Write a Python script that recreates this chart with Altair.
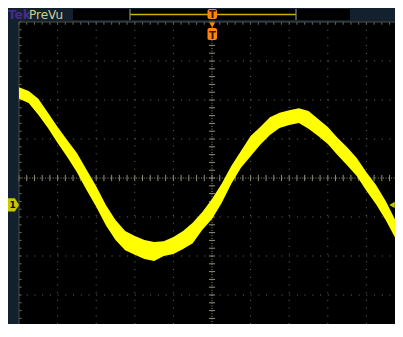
import altair as alt
import pandas as pd

# ---------------- data (read from the screen, in graticule divisions) ----------------
# time in divisions (-5 .. 5 across the screen), voltage in divisions (-4 .. 4)
t_div = [-5.0, -4.75, -4.5, -4.25, -4.0, -3.75, -3.5, -3.25, -3.0, -2.75,
         -2.5, -2.25, -2.0, -1.75, -1.5, -1.25, -1.0, -0.75, -0.5, -0.25,
         0.0, 0.25, 0.5, 0.75, 1.0, 1.25, 1.5, 1.75, 2.0, 2.25,
         2.5, 2.75, 3.0, 3.25, 3.5, 3.75, 4.0, 4.25, 4.5, 4.75, 5.0]
trace_top = [2.33, 2.23, 2.03, 1.67, 1.31, 0.97, 0.64, 0.21, -0.21, -0.69,
             -1.08, -1.36, -1.49, -1.59, -1.64, -1.62, -1.51, -1.36, -1.15, -0.87,
             -0.54, -0.15, 0.31, 0.69, 1.08, 1.31, 1.56, 1.67, 1.74, 1.79,
             1.72, 1.51, 1.31, 1.03, 0.79, 0.51, 0.15, -0.18, -0.59, -1.08, -1.54]
trace_bottom = [2.03, 1.92, 1.62, 1.28, 0.90, 0.54, 0.15, -0.31, -0.74, -1.21,
                -1.59, -1.85, -1.97, -2.08, -2.13, -2.00, -1.95, -1.82, -1.67, -1.33,
                -1.05, -0.64, -0.15, 0.26, 0.56, 0.85, 1.10, 1.28, 1.36, 1.41,
                1.26, 1.08, 0.87, 0.59, 0.33, 0.05, -0.33, -0.67, -1.08, -1.54, -1.90]
ch1_level = [-0.69]          # channel 1 ground / trigger level marker
major_t = [-4, -3, -2, -1, 1, 2, 3, 4]
major_v = [-3, -2, -1, 1, 2, 3]
minor_t = [round(-5 + 0.2 * i, 2) for i in range(51)]
minor_v = [round(-4 + 0.2 * i, 2) for i in range(41)]
header_brand = ["Tek"]
header_mode = ["PreVu"]

# ---------------- styling ----------------
NAVY = "#13212f"
GRID = "#6a6a58"
GRID_C = "#8e8e76"
YEL = "#ffff00"
ORANGE = "#ff8410"
DIV = 38.6                      # pixels per horizontal division
VDIV = 39.0                     # pixels per vertical division
W, H = 376, 302                 # visible plot area (screen is cropped at right/bottom)
XS = alt.Scale(domain=[-5, -5 + W / DIV], nice=False, zero=False)
YS = alt.Scale(domain=[4 - H / VDIV, 4], nice=False, zero=False)


def X(f):
    return alt.X(f, type="quantitative", scale=XS, axis=None)


def Y(f):
    return alt.Y(f, type="quantitative", scale=YS, axis=None)


one = pd.DataFrame({"a": [0]})

# graticule
vgrid = alt.Chart(pd.DataFrame({"t": major_t})).mark_rule(
    color=GRID, strokeDash=[1, 6.72], strokeWidth=1
).encode(x=X("t"), y=alt.value(0), y2=alt.value(H))
hgrid = alt.Chart(pd.DataFrame({"v": major_v})).mark_rule(
    color=GRID, strokeDash=[1, 6.72], strokeWidth=1
).encode(y=Y("v"), x=alt.value(0), x2=alt.value(W))
vcenter = alt.Chart(pd.DataFrame({"t": [0]})).mark_rule(
    color=GRID_C, strokeDash=[1, 1.6], strokeWidth=1
).encode(x=X("t"), y=alt.value(0), y2=alt.value(H))
hcenter = alt.Chart(pd.DataFrame({"v": [0]})).mark_rule(
    color=GRID_C, strokeDash=[1, 1.6], strokeWidth=1
).encode(y=Y("v"), x=alt.value(0), x2=alt.value(W))

vt = pd.DataFrame({"v": minor_v, "a": -0.08, "b": 0.08})
vticks = alt.Chart(vt).mark_rule(color=GRID_C, strokeWidth=1).encode(
    y=Y("v"), x=X("a"), x2="b")
ht = pd.DataFrame({"t": minor_t, "a": -0.08, "b": 0.08})
hticks = alt.Chart(ht).mark_rule(color=GRID_C, strokeWidth=1).encode(
    x=X("t"), y=Y("a"), y2="b")

topt = pd.DataFrame({"t": minor_t, "a": 4.0, "b": 3.93})
topticks = alt.Chart(topt).mark_rule(color=GRID, strokeWidth=1).encode(
    x=X("t"), y=Y("a"), y2="b")
leftt = pd.DataFrame({"v": minor_v, "a": -5.0, "b": -4.93})
leftticks = alt.Chart(leftt).mark_rule(color=GRID, strokeWidth=1).encode(
    y=Y("v"), x=X("a"), x2="b")

borders = alt.Chart(pd.DataFrame({"v": [4]})).mark_rule(
    color="#4e4e44", strokeWidth=1
).encode(y=Y("v"), x=alt.value(0), x2=alt.value(W))
lborder = alt.Chart(pd.DataFrame({"t": [-5]})).mark_rule(
    color="#4e4e44", strokeWidth=1
).encode(x=X("t"), y=alt.value(0), y2=alt.value(H))

# waveform band
trace = pd.DataFrame({"t": t_div, "hi": trace_top, "lo": trace_bottom})
band = alt.Chart(trace).mark_area(color=YEL, opacity=1, strokeWidth=0, clip=True).encode(
    x=X("t"), y=Y("lo"), y2="hi")

# header bar
hdr_box = alt.Chart(one).mark_rect(color="black").encode(
    x=alt.value(54), x2=alt.value(331), y=alt.value(-13), y2=alt.value(-2))
rec_line = alt.Chart(one).mark_rule(color="#c8b400", strokeWidth=1.5).encode(
    x=alt.value(111), x2=alt.value(277), y=alt.value(-7.5))
rec_ends = alt.Chart(pd.DataFrame({"p": [111, 277]})).mark_rule(
    color="#8a8a80", strokeWidth=1.2
).encode(x=alt.X("p:Q", scale=None), y=alt.value(-13), y2=alt.value(-2))
brand = alt.Chart(pd.DataFrame({"s": header_brand})).mark_text(
    font="DejaVu Sans", fontSize=12, fontWeight="bold", color="#4a2a8c",
    align="left", baseline="alphabetic"
).encode(text="s:N", x=alt.value(-11), y=alt.value(-3))
mode = alt.Chart(pd.DataFrame({"s": header_mode})).mark_text(
    font="DejaVu Sans", fontSize=12, color="#cfcf8c",
    align="left", baseline="alphabetic"
).encode(text="s:N", x=alt.value(10), y=alt.value(-3))

# trigger position markers
trig_top = alt.Chart(one).mark_rect(color=ORANGE, cornerRadius=2).encode(
    x=alt.value(188.5), x2=alt.value(198), y=alt.value(-13), y2=alt.value(-3))
trig_arrow = alt.Chart(one).mark_point(
    shape="triangle-down", filled=True, color=ORANGE, size=35, opacity=1
).encode(x=alt.value(193.2), y=alt.value(3))
trig_box = alt.Chart(one).mark_rect(color=ORANGE, cornerRadius=2).encode(
    x=alt.value(188.5), x2=alt.value(198), y=alt.value(6), y2=alt.value(18))
trig_txt = alt.Chart(pd.DataFrame({"s": ["T", "T"], "y": [-4, 16.5]})).mark_text(
    font="DejaVu Sans", fontSize=10, fontWeight="bold", color="#3a1a00",
    align="center", baseline="alphabetic"
).encode(text="s:N", x=alt.value(193.3), y=alt.Y("y:Q", scale=None))

# channel 1 marker (left) and trigger level marker (right)
lvl = pd.DataFrame({"v": ch1_level, "s": ["1"]})
ch1 = alt.Chart(lvl).mark_point(
    shape="M-1,-1.2 L0.25,-1.2 L1,0 L0.25,1.2 L-1,1.2 Z",
    filled=True, color="#c8c800", size=121, opacity=1, strokeWidth=0
).encode(x=alt.value(-5.5), y=Y("v"))
ch1_txt = alt.Chart(lvl).mark_text(
    font="DejaVu Sans", fontSize=9, fontWeight="bold", color="#101010",
    align="center", baseline="middle"
).encode(text="s:N", x=alt.value(-6.5), y=Y("v"))
trig_lvl = alt.Chart(lvl).mark_point(
    shape="triangle-left", filled=True, color="#c8c800", size=40, opacity=1
).encode(x=alt.value(W - 3), y=Y("v"))

chart = alt.layer(
    vgrid, hgrid, vcenter, hcenter, vticks, hticks,
    topticks, leftticks, borders, lborder,
    band,
    hdr_box, rec_line, rec_ends, brand, mode,
    trig_top, trig_arrow, trig_box, trig_txt,
    ch1, ch1_txt, trig_lvl,
).properties(
    width=W, height=H,
    background=NAVY,
    padding={"left": 11, "top": 14, "right": 0, "bottom": 0},
    autosize=alt.AutoSizeParams(type="none"),
).configure_view(fill="black", stroke=None)

chart.save("out.html", embed_options={"renderer": "svg", "actions": False})
